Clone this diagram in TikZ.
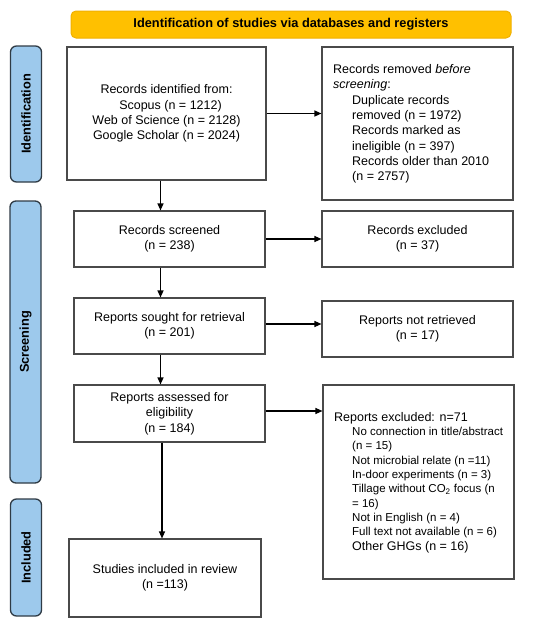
\documentclass[tikz,border=0pt]{standalone}
\usepackage{fontspec}
\setmainfont{Liberation Sans}
\usetikzlibrary{arrows.meta,calc}
\definecolor{hdrfill}{HTML}{FFC000}
\definecolor{hdrdraw}{HTML}{F0B000}
\definecolor{sidefill}{HTML}{9DC9EC}
\definecolor{sidedraw}{HTML}{2F3B45}
\definecolor{boxdraw}{HTML}{4A4A4A}
\tikzset{
  base/.style={font=\fontsize{12.5}{15.3}\selectfont, inner sep=0pt},
  box/.style={base, draw=boxdraw, line width=1.1pt, fill=white, align=center},
  lbox/.style={box, align=left, text width=#1},
  side/.style={draw=sidedraw, line width=1.3pt, fill=sidefill, rounded corners=6pt,
     minimum width=31pt, inner sep=0pt},
  sidetext/.style={font=\fontsize{12.8}{15}\selectfont\bfseries, rotate=90, inner sep=0pt},
  arr/.style={line width=1.1pt, -{Triangle[length=7pt,width=6pt]}},
}
\begin{document}
\begin{tikzpicture}[x=1pt,y=-1pt]
\useasboundingbox (0,0) rectangle (550,624);
% header
\node[draw=hdrdraw, line width=1pt, fill=hdrfill, rounded corners=5pt,
  minimum width=440pt, minimum height=27pt, inner sep=0pt,
  font=\fontsize{12.8}{15}\selectfont\bfseries] (hdr) at (291,24.5)
  {Identification of studies via databases and registers};
% side labels
\node[side, minimum height=136pt] (sid) at (26,114) {};
\node[sidetext] (sidt) at (sid.center) {Identification};
\node[side, minimum height=282pt] (sscr) at (25.5,342) {};
\node[sidetext] (sscrt) at (sscr.center) {Screening};
\node[side, minimum height=117pt] (sinc) at (26,557.5) {};
\node[sidetext] (sinct) at (sinc.center) {Included};
% left column
\node[box, minimum width=199pt, minimum height=133pt] (b1) at (166.5,113.5)
  {Records identified from:\\
   \hspace*{8pt}Scopus (n = 1212)\\
   Web of Science (n = 2128)\\
   Google Scholar (n = 2024)};
\node[box, minimum width=191pt, minimum height=56pt] (scr) at (169.5,239)
  {Records screened\\(n = 238)};
\node[box, minimum width=191pt, minimum height=56pt] (sou) at (169.5,326)
  {Reports sought for retrieval\\(n = 201)};
\node[box, minimum width=191pt, minimum height=57pt] (ass) at (169.5,413.5)
  {Reports assessed for\\eligibility\\(n = 184)};
\node[box, minimum width=192pt, minimum height=78pt] (inc) at (165,578)
  {Studies included in review\\(n =113)};
% right column
\node[box, minimum width=191pt, minimum height=153pt] (rem) at (417.5,123.5) {};
\node[base, align=left, anchor=west] (remt) at (333,124)
  {Records removed \textit{before}\\
   \textit{screening}:\\
   \hspace*{19pt}Duplicate records\\
   \hspace*{19pt}removed (n = 1972)\\
   \hspace*{19pt}Records marked as\\
   \hspace*{19pt}ineligible (n = 397)\\
   \hspace*{19pt}Records older than 2010\\
   \hspace*{19pt}(n = 2757)};
\node[box, minimum width=191pt, minimum height=56pt] (exc) at (417.5,239)
  {Records excluded\\(n = 37)};
\node[box, minimum width=191pt, minimum height=56pt] (nr) at (417.5,329)
  {Reports not retrieved\\(n = 17)};
\node[box, minimum width=191pt, minimum height=194pt] (rex) at (418.5,482) {};
\node[base, align=left, anchor=west, font=\fontsize{11.5}{14.3}\selectfont] (rext) at (334,482.5)
  {{\fontsize{12.5}{14.3}\selectfont Reports excluded: n=71}\\
   \hspace*{18pt}No connection in title/abstract\\
   \hspace*{18pt}(n = 15)\\
   \hspace*{18pt}Not microbial relate (n =11)\\
   \hspace*{18pt}In-door experiments (n = 3)\\
   \hspace*{18pt}Tillage without CO\textsubscript{2} focus (n\\
   \hspace*{18pt}= 16)\\
   \hspace*{18pt}Not in English (n = 4)\\
   \hspace*{18pt}Full text not available (n = 6)\\
   \hspace*{18pt}{\fontsize{12.5}{14.3}\selectfont Other GHGs (n = 16)}};
% connectors
\coordinate (colx) at (160.5,0);
\coordinate (colx2) at (162,0);
\draw[arr] (b1.south -| colx) -- (scr.north -| colx);
\draw[arr] (scr.south -| colx) -- (sou.north -| colx);
\draw[arr] (sou.south -| colx) -- (ass.north -| colx);
\draw[arr] (ass.south -| colx2) -- (inc.north -| colx2);
\draw[arr] (b1.east) -- (b1.east -| rem.west);
\draw[arr] (scr.east) -- (scr.east -| exc.west);
\draw[arr] ([yshift=2pt]sou.east) -- ([yshift=2pt]sou.east -| nr.west);
\draw[arr] ([yshift=2.5pt]ass.east) -- ([yshift=2.5pt]ass.east -| rex.west);
\end{tikzpicture}
\end{document}
